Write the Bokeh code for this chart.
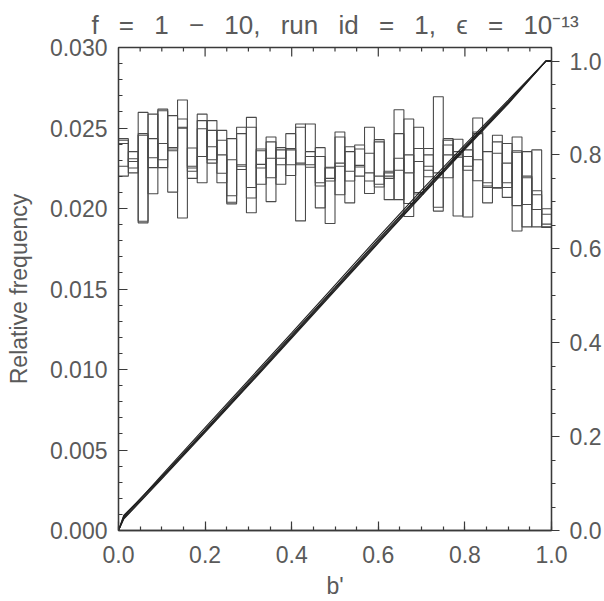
import numpy as np
from bokeh.plotting import figure
from bokeh.models import Range1d, LinearAxis, SingleIntervalTicker, PrintfTickFormatter
from bokeh.embed import file_html
from bokeh.resources import INLINE

# ---- data -------------------------------------------------------------
n_bins = 44
hist_a = [0.02434, 0.02221, 0.02597, 0.02092, 0.02617, 0.02102, 0.02674, 0.02187, 0.02586, 0.02282,
          0.02485, 0.02029, 0.02505, 0.01974, 0.02370, 0.02043, 0.02378, 0.02205, 0.02525, 0.02256,
          0.02378, 0.01907, 0.02475, 0.02035, 0.02394, 0.02093, 0.02428, 0.02055, 0.02613, 0.01950,
          0.02505, 0.02197, 0.02694, 0.02191, 0.02430, 0.01947, 0.02562, 0.02035, 0.02455, 0.02069,
          0.02444, 0.01886, 0.02364, 0.01883]
hist_b = [0.02424, 0.02252, 0.02465, 0.02254, 0.02607, 0.02359, 0.02556, 0.02231, 0.02546, 0.02303,
          0.02424, 0.02039, 0.02465, 0.02065, 0.02359, 0.02191, 0.02364, 0.02272, 0.02505, 0.02272,
          0.02323, 0.02171, 0.02444, 0.02171, 0.02370, 0.02171, 0.02414, 0.02187, 0.02465, 0.02031,
          0.02373, 0.02238, 0.02221, 0.02333, 0.02353, 0.02238, 0.02475, 0.02130, 0.02414, 0.02130,
          0.02359, 0.02025, 0.02110, 0.01886]
hist_c = [0.02404, 0.02292, 0.02455, 0.02315, 0.02404, 0.02370, 0.02505, 0.02252, 0.02495, 0.02384,
          0.02333, 0.02079, 0.02272, 0.02130, 0.02274, 0.02312, 0.02312, 0.02364, 0.02282, 0.02323,
          0.02160, 0.02187, 0.02282, 0.02231, 0.02268, 0.02221, 0.02201, 0.02201, 0.02312, 0.02221,
          0.02292, 0.02262, 0.02191, 0.02394, 0.02333, 0.02262, 0.02465, 0.02140, 0.02343, 0.02160,
          0.02349, 0.02191, 0.02085, 0.01903]
hist_d = [0.02262, 0.02309, 0.01921, 0.02434, 0.02303, 0.02379, 0.02499, 0.02262, 0.02323, 0.02485,
          0.02219, 0.02303, 0.02262, 0.02505, 0.02252, 0.02414, 0.02272, 0.02373, 0.02272, 0.02353,
          0.02140, 0.02252, 0.02262, 0.02353, 0.02258, 0.02343, 0.02151, 0.02221, 0.02238, 0.02333,
          0.02099, 0.02333, 0.02008, 0.02424, 0.02319, 0.02323, 0.02303, 0.02160, 0.02130, 0.02282,
          0.02018, 0.02201, 0.01994, 0.01964]
hist_e = [0.02201, 0.02353, 0.01911, 0.02586, 0.02254, 0.02577, 0.01941, 0.02376, 0.02160, 0.02546,
          0.02160, 0.02434, 0.02242, 0.02566, 0.02151, 0.02444, 0.02151, 0.02465, 0.01923, 0.02525,
          0.02004, 0.02256, 0.02085, 0.02384, 0.02201, 0.02505, 0.02134, 0.02231, 0.02055, 0.02556,
          0.02090, 0.02373, 0.01984, 0.02434, 0.01953, 0.02364, 0.02172, 0.02353, 0.02126, 0.02404,
          0.01860, 0.02353, 0.01886, 0.01998]

cdf_x = [0.0, 0.012, 0.1, 0.2, 0.3, 0.4, 0.5, 0.6, 0.7, 0.8, 0.9, 0.987, 1.0]
cdf_a = [0.0, 0.030, 0.115, 0.215, 0.316, 0.417, 0.518, 0.620, 0.720, 0.818, 0.914, 1.0, 1.0]
cdf_b = [0.0, 0.026, 0.112, 0.211, 0.311, 0.412, 0.513, 0.614, 0.715, 0.814, 0.911, 1.0, 1.0]
cdf_c = [0.0, 0.028, 0.118, 0.219, 0.320, 0.421, 0.523, 0.625, 0.725, 0.822, 0.917, 1.0, 1.0]
cdf_d = [0.0, 0.032, 0.114, 0.213, 0.313, 0.414, 0.516, 0.617, 0.718, 0.816, 0.912, 1.0, 1.0]
cdf_e = [0.0, 0.024, 0.110, 0.209, 0.309, 0.410, 0.511, 0.612, 0.713, 0.812, 0.909, 1.0, 1.0]

# tick positions of the (unlabelled) top axis
top_major_ticks = [0.2, 0.4, 0.6, 0.8]
top_minor_ticks = [0.05, 0.10, 0.15, 0.25, 0.30, 0.35, 0.45, 0.50, 0.55,
                   0.65, 0.70, 0.75, 0.85, 0.90, 0.95]

SP = "\u2002 "   # wide IDL-style word spacing
title_text = SP.join(["f", "=", "1", "\u2212", "10,", "run", "id", "=", "1,", "\u03f5", "=", "10\u207b\u00b9\u00b3"])
x_label = "b'"
y_label = "Relative frequency"

# ---- figure -----------------------------------------------------------
FONT = "Liberation Sans"
TXT = "#5a5a5a"
AX = "#3a3a3a"

p = figure(width=604, height=601, output_backend="svg", toolbar_location=None,
           x_range=Range1d(0, 1), y_range=Range1d(0, 0.030),
           min_border_left=118, min_border_right=53, min_border_top=45, min_border_bottom=63,
           background_fill_color="white", border_fill_color="white")
p.extra_y_ranges = {"cdf": Range1d(0, 1.029)}
p.grid.visible = False
p.outline_line_color = AX
p.outline_line_width = 1.3

p.title.text = title_text
p.title.align = "center"
p.title.text_font = FONT
p.title.text_font_size = "26px"
p.title.text_font_style = "normal"
p.title.text_color = TXT
p.title.standoff = 15

def style_axis(ax, tick_in=True):
    ax.axis_line_color = AX
    ax.axis_line_width = 1.3
    ax.major_tick_line_color = AX
    ax.minor_tick_line_color = AX
    ax.major_tick_line_width = 1.2
    ax.minor_tick_line_width = 1.2
    if tick_in:
        ax.major_tick_in, ax.major_tick_out = 9, 0
        ax.minor_tick_in, ax.minor_tick_out = 4, 0
    else:
        ax.major_tick_in, ax.major_tick_out = 0, 8
        ax.minor_tick_in, ax.minor_tick_out = 0, 4
    ax.major_label_text_font = FONT
    ax.major_label_text_font_size = "23px"
    ax.major_label_text_color = TXT
    ax.axis_label_text_font = FONT
    ax.axis_label_text_font_size = "23px"
    ax.axis_label_text_font_style = "normal"
    ax.axis_label_text_color = TXT

xa = p.xaxis[0]
xa.ticker = SingleIntervalTicker(interval=0.2, num_minor_ticks=4)
xa.formatter = PrintfTickFormatter(format="%.1f")
xa.axis_label = x_label
style_axis(xa)
xa.major_label_standoff = 15
xa.axis_label_standoff = 7

ya = p.yaxis[0]
ya.ticker = SingleIntervalTicker(interval=0.005, num_minor_ticks=5)
ya.formatter = PrintfTickFormatter(format="%.3f")
ya.axis_label = y_label
style_axis(ya)
ya.major_label_standoff = 11
ya.axis_label_standoff = 15

right = LinearAxis(y_range_name="cdf", ticker=SingleIntervalTicker(interval=0.2, num_minor_ticks=4),
                   formatter=PrintfTickFormatter(format="%.1f"))
style_axis(right, tick_in=False)
right.major_label_standoff = 10
p.add_layout(right, "right")

# inward ticks along the top edge
p.ray(top_major_ticks, [0.030] * len(top_major_ticks), length=9, length_units="screen",
      angle=-np.pi / 2, line_color=AX, line_width=1.2)
p.ray(top_minor_ticks, [0.030] * len(top_minor_ticks), length=4, length_units="screen",
      angle=-np.pi / 2, line_color=AX, line_width=1.2)

# ---- histograms (step lines over bin edges) ---------------------------
edges = np.linspace(0.0, 1.0, n_bins + 1)
for h in (hist_a, hist_b, hist_c, hist_d, hist_e):
    yy = list(h) + [h[-1]]
    p.step(edges, yy, mode="after", line_color="#4a4a4a", line_width=1.1)

# ---- cumulative curves on right axis ---------------------------------
for c in (cdf_a, cdf_b, cdf_c, cdf_d, cdf_e):
    p.line(cdf_x, c, y_range_name="cdf", line_color="#202020", line_width=1.1)

open("out.html", "w").write(file_html(p, INLINE))
